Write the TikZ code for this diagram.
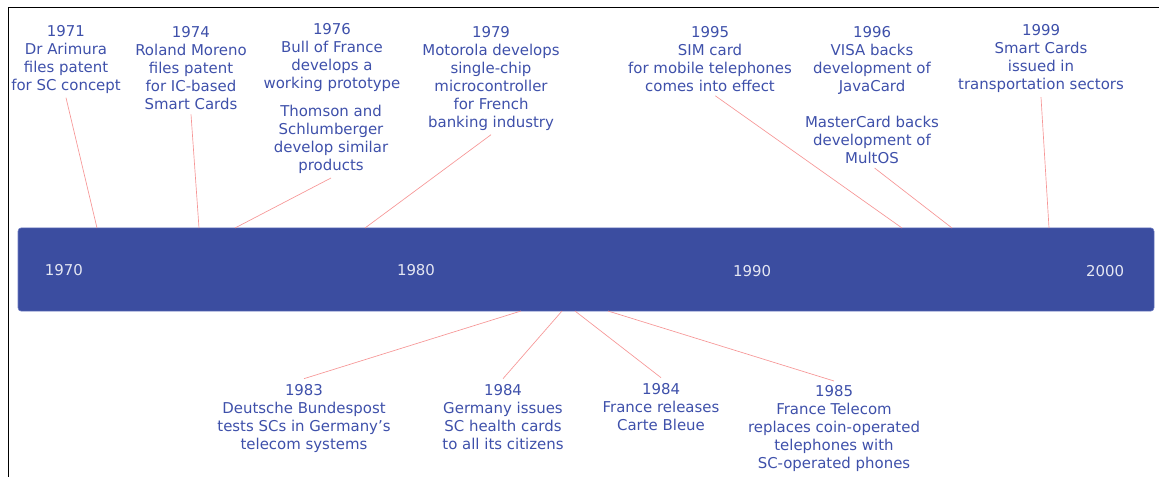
\documentclass[tikz,border=0pt]{standalone}
\usepackage{fontspec}
\setmainfont{DejaVu Sans}
\usepackage{tikz}
\usetikzlibrary{positioning}
\usepackage{xcolor}
\definecolor{evblue}{RGB}{62,80,170}
\definecolor{barblue}{RGB}{59,77,160}
\definecolor{barline}{RGB}{110,125,195}
\definecolor{linkred}{RGB}{246,150,150}
\definecolor{ticktext}{RGB}{228,230,242}
\newcommand{\evsize}{\fontsize{11.2pt}{13.5pt}\selectfont}

\begin{document}
\begin{tikzpicture}[
    x=0.75pt, y=-0.75pt,
    event/.style={align=center, text=evblue, font=\evsize, inner sep=0pt, anchor=north},
    tick/.style={text=ticktext, font=\evsize},
    link/.style={draw=linkred, line width=0.5pt},
]
    \useasboundingbox (0,0) rectangle (1159,477);
    \draw[line width=1.1pt] (8.5,477) -- (8.5,7.5) -- (1159,7.5);

    % Time bar
    \node[draw=barline, fill=barblue, rounded corners=2.5pt, line width=0.4pt,
          minimum width=852pt, minimum height=62.5pt, inner sep=0pt] (bar) at (586,269.5) {};
    \node[tick] (y70) at (64,270)   {1970};
    \node[tick] (y80) at (416,270)  {1980};
    \node[tick] (y90) at (752,271)  {1990};
    \node[tick] (y00) at (1105,271) {2000};

    % Events above the bar
    \node[event] (e71) at (66,25)   {1971\\Dr Arimura\\files patent\\for SC concept};
    \node[event] (e74) at (191,26.5) {1974\\Roland Moreno\\files patent\\for IC-based\\Smart Cards};
    \node[event] (e76) at (332,23)  {1976\\Bull of France\\develops a\\working prototype};
    \node[event] (e76b) at (331,105) {Thomson and\\Schlumberger\\develop similar\\products};
    \node[event] (e79) at (491,26)  {1979\\Motorola develops\\single-chip\\microcontroller\\for French\\banking industry};
    \node[event] (e95) at (710,26)  {1995\\SIM card\\for mobile telephones\\comes into effect};
    \node[event] (e96) at (872,26)  {1996\\VISA backs\\development of\\JavaCard};
    \node[event] (e96b) at (872,116) {MasterCard backs\\development of\\MultOS};
    \node[event] (e99) at (1041,24.5) {1999\\Smart Cards\\issued in\\transportation sectors};

    % Events below the bar
    \node[event] (e83) at (304,384)  {1983\\Deutsche Bundespost\\tests SCs in Germany's\\telecom systems};
    \node[event] (e84) at (503,384)  {1984\\Germany issues\\SC health cards\\to all its citizens};
    \node[event] (e84b) at (661,383) {1984\\France releases\\Carte Bleue};
    \node[event] (e85) at (834,385)  {1985\\France Telecom\\replaces coin-operated\\telephones with\\SC-operated phones};

    % Anchor points on the bar
    \coordinate (b71) at (97,228);
    \coordinate (b74) at (199,228);
    \coordinate (b76) at (235,228);
    \coordinate (b79) at (365,228);
    \coordinate (b95) at (902,228);
    \coordinate (b96) at (952,228);
    \coordinate (b99) at (1049,228);
    \coordinate (b83) at (521,311);
    \coordinate (b84) at (562,311);
    \coordinate (b84b) at (575,311);
    \coordinate (b85) at (608,311);

    \draw[link] ([yshift=-3pt]e71.south) -- (b71);
    \draw[link] ([yshift=-3pt]e74.south) -- (b74);
    \draw[link] ([yshift=-3pt]e76b.south) -- (b76);
    \draw[link] ([yshift=-3pt]e79.south) -- (b79);
    \draw[link] ([xshift=4pt,yshift=-3pt]e95.south) -- (b95);
    \draw[link] ([xshift=2pt,yshift=-3pt]e96b.south) -- (b96);
    \draw[link] ([yshift=-3pt]e99.south) -- (b99);
    \draw[link] (b83) -- ([yshift=4pt]e83.north);
    \draw[link] (b84) -- ([yshift=4pt]e84.north);
    \draw[link] (b84b) -- ([yshift=4pt]e84b.north);
    \draw[link] (b85) -- ([yshift=3pt]e85.north);
\end{tikzpicture}
\end{document}
